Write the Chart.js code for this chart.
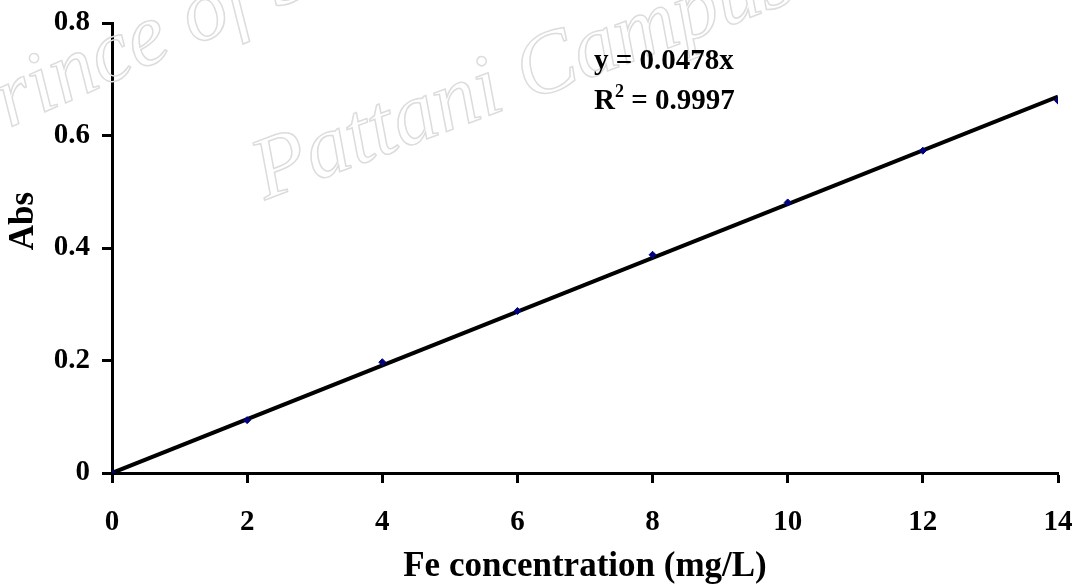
<!DOCTYPE html>
<html>
<head>
<meta charset="utf-8">
<script src="https://cdn.jsdelivr.net/npm/chart.js@4"></script>
<style>
  html, body { margin: 0; padding: 0; background: #fff; }
  #wrap { width: 1080px; height: 588px; }
</style>
</head>
<body>
<div id="wrap"><canvas id="calChart"></canvas></div>
<script>
const concX = [0, 2, 4, 6, 8, 10, 12, 14];
const absY = [0, 0.094, 0.197, 0.288, 0.388, 0.481, 0.573, 0.662];
const trendX = [0, 14];
const trendY = [0, 0.669];
const xTicks = [0, 2, 4, 6, 8, 10, 12, 14];
const yTicks = [0, 0.2, 0.4, 0.6, 0.8];
const eqLine = "y = 0.0478x";
const r2Value = "0.9997";
const yTitle = "Abs";

const serif = "'Liberation Serif', 'Times New Roman', serif";

// faint outlined watermark, y title (sits above centre) and trendline equation
const overlay = {
  id: "overlay",
  beforeDatasetsDraw(chart) {
    const ctx = chart.ctx;
    ctx.save();
    ctx.strokeStyle = "#dcdcdc";
    ctx.lineWidth = 1.5;
    ctx.font = "italic 88px " + serif;
    ctx.translate(-40, 150);
    ctx.rotate(-0.42);
    ctx.strokeText("Prince of Songkla University", 0, 0);
    ctx.restore();
    ctx.save();
    ctx.strokeStyle = "#dcdcdc";
    ctx.lineWidth = 1.5;
    ctx.font = "italic 88px " + serif;
    ctx.translate(265, 200);
    ctx.rotate(-0.36);
    ctx.strokeText("Pattani Campus", 0, 0);
    ctx.restore();
  },
  afterDraw(chart) {
    const ctx = chart.ctx;
    ctx.save();
    ctx.fillStyle = "#000";
    ctx.font = "bold 35px " + serif;
    ctx.textAlign = "center";
    ctx.textBaseline = "middle";
    ctx.translate(24, 221);
    ctx.rotate(-Math.PI / 2);
    ctx.fillText(yTitle, 0, 0);
    ctx.restore();

    ctx.save();
    ctx.fillStyle = "#000";
    ctx.textBaseline = "middle";
    ctx.textAlign = "left";
    ctx.font = "bold 29px " + serif;
    ctx.fillText(eqLine, 594, 62);
    ctx.fillText("R", 594, 102);
    const rw = ctx.measureText("R").width;
    ctx.font = "bold 18px " + serif;
    ctx.fillText("2", 594 + rw, 92);
    const sw = ctx.measureText("2").width;
    ctx.font = "bold 29px " + serif;
    ctx.fillText(" = " + r2Value, 594 + rw + sw, 102);
    ctx.restore();
  },
};

new Chart(document.getElementById("calChart"), {
  type: "scatter",
  data: {
    datasets: [
      {
        label: "Abs",
        data: concX.map((x, i) => ({ x, y: absY[i] })),
        backgroundColor: "#000080",
        borderColor: "#000080",
        pointStyle: "rectRot",
        pointRadius: 3.5,
        order: 1,
      },
      {
        label: "Linear",
        type: "line",
        data: trendX.map((x, i) => ({ x, y: trendY[i] })),
        borderColor: "#000",
        borderWidth: 4,
        pointRadius: 0,
        fill: false,
        order: 2,
      },
    ],
  },
  plugins: [overlay],
  options: {
    responsive: true,
    maintainAspectRatio: false,
    animation: false,
    layout: { padding: { top: 23, right: 22, bottom: 0, left: 0 } },
    plugins: {
      legend: { display: false },
      tooltip: { enabled: false },
    },
    scales: {
      x: {
        type: "linear",
        min: 0,
        max: 14,
        afterBuildTicks: (s) => { s.ticks = xTicks.map((v) => ({ value: v })); },
        afterFit: (s) => { s.height = 115; s.paddingRight = 0; },
        border: { display: true, color: "#000", width: 3 },
        grid: { drawOnChartArea: false, drawTicks: true, tickLength: 10, tickWidth: 3, tickColor: "#000" },
        ticks: { color: "#000", padding: 22, font: { family: serif, size: 29, weight: "bold" }, maxRotation: 0 },
        title: { display: true, text: "Fe concentration (mg/L)", color: "#000", padding: { top: 6, bottom: 0 }, font: { family: serif, size: 35, weight: "bold" } },
      },
      y: {
        type: "linear",
        min: 0,
        max: 0.8,
        afterBuildTicks: (s) => { s.ticks = yTicks.map((v) => ({ value: v })); },
        afterFit: (s) => { s.width = 112; s.paddingTop = 0; },
        border: { display: true, color: "#000", width: 3 },
        grid: { drawOnChartArea: false, drawTicks: true, tickLength: 10, tickWidth: 3, tickColor: "#000" },
        ticks: { color: "#000", padding: 12, font: { family: serif, size: 29, weight: "bold" }, callback: (v) => String(v) },
        title: { display: false },
      },
    },
  },
});
</script>
</body>
</html>
